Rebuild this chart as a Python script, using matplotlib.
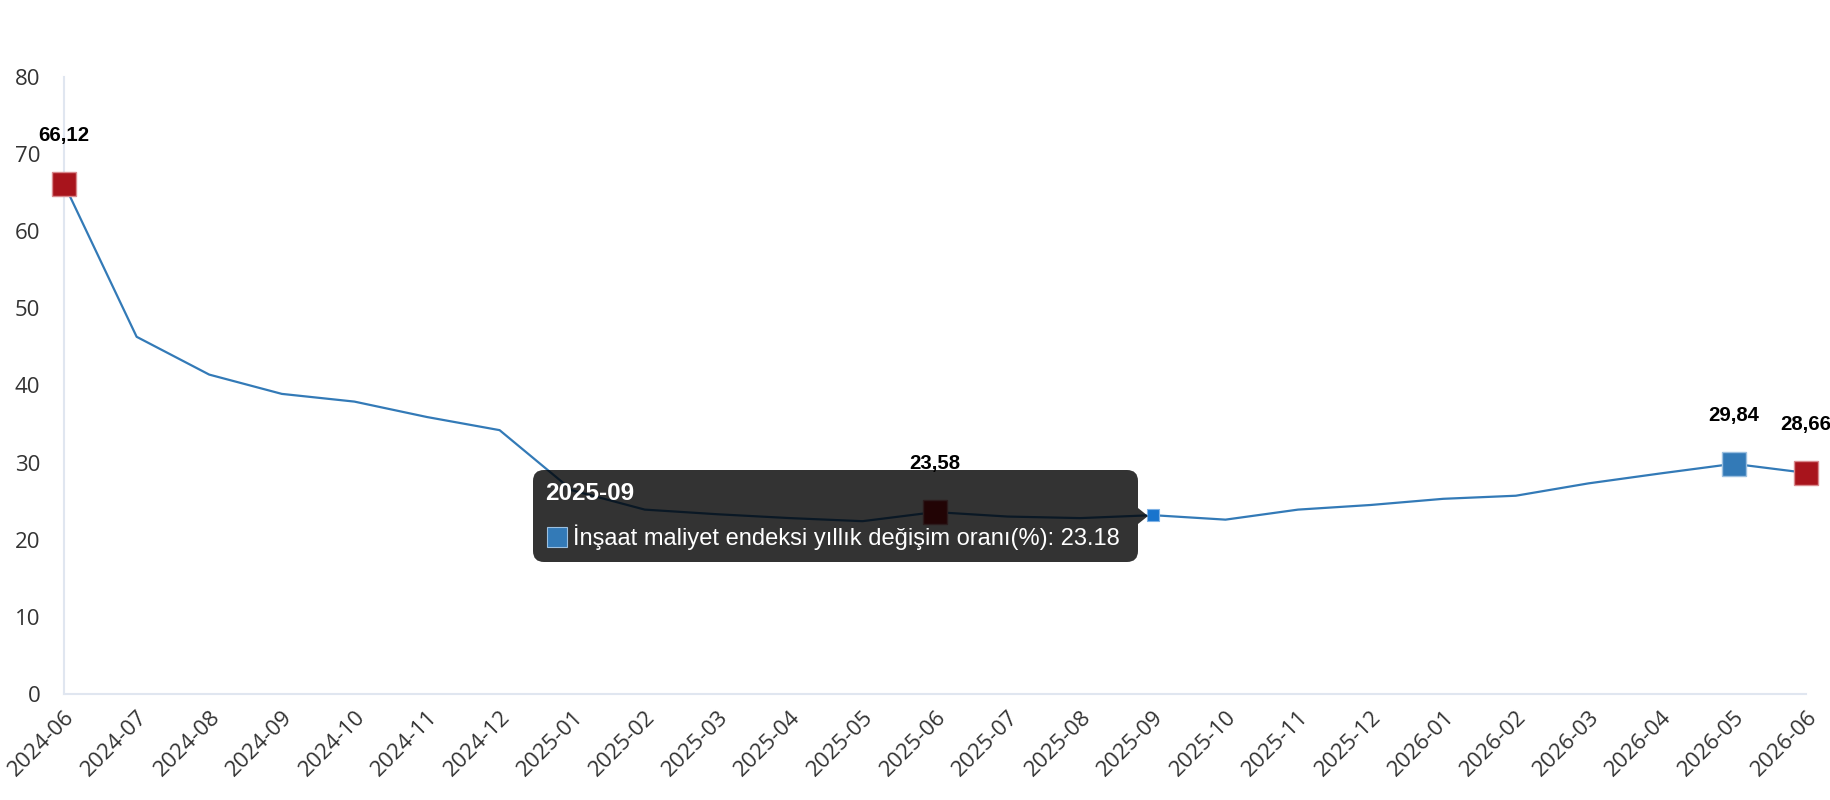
import matplotlib
matplotlib.use("Agg")
import matplotlib.pyplot as plt
from matplotlib.patches import FancyBboxPatch, Polygon, Rectangle

months = ["2024-06", "2024-07", "2024-08", "2024-09", "2024-10", "2024-11", "2024-12",
          "2025-01", "2025-02", "2025-03", "2025-04", "2025-05", "2025-06", "2025-07",
          "2025-08", "2025-09", "2025-10", "2025-11", "2025-12", "2026-01", "2026-02",
          "2026-03", "2026-04", "2026-05", "2026-06"]
values = [66.12, 46.3, 41.4, 38.9, 37.9, 35.9, 34.2,
          26.4, 23.9, 23.3, 22.8, 22.4, 23.58, 23.0,
          22.8, 23.18, 22.6, 23.9, 24.5, 25.3, 25.7,
          27.3, 28.6, 29.84, 28.66]
series_name = "İnşaat maliyet endeksi yıllık değişim oranı(%)"
highlight_idx = [0, 12, 23, 24]
highlight_colors = ["#A8141C", "#A8141C", "#337AB7", "#A8141C"]
highlight_edges = ["#D98A8E", "#D98A8E", "#9CC0E0", "#D98A8E"]
hover_idx = 15
yticks = [0, 10, 20, 30, 40, 50, 60, 70, 80]

line_color = "#337AB7"

fig = plt.figure(figsize=(18.3, 8), dpi=100)
ax = fig.add_axes([0.035, 0.1325, 0.952, 0.7715])
x = list(range(len(months)))
ax.plot(x, values, color=line_color, lw=1.6, zorder=3, clip_on=False)

for i, c, ec in zip(highlight_idx, highlight_colors, highlight_edges):
    ax.plot([x[i]], [values[i]], marker="s", ms=17, color=c, mec=ec, mew=1,
            zorder=4, clip_on=False)
    ax.annotate(f"{values[i]:.2f}".replace(".", ","), (x[i], values[i]),
                xytext=(0, 35), textcoords="offset points", ha="center", va="center",
                fontsize=14.7, fontweight="bold", family="Liberation Sans",
                color="black", zorder=5, annotation_clip=False)

ax.plot([x[hover_idx]], [values[hover_idx]], marker="s", ms=8.5, color="#1874CD",
        mec="#7FB2E5", mew=0.8, zorder=7, clip_on=False)

ax.set_xlim(0, len(months) - 1)
ax.set_ylim(0, 80)
ax.set_yticks(yticks)
ax.set_xticks(x)
ax.set_xticklabels(months, rotation=45, ha="right", va="top", rotation_mode="anchor")
ax.tick_params(axis="both", length=0, labelsize=16, labelcolor="#333333")
ax.tick_params(axis="y", pad=17)
ax.tick_params(axis="x", pad=9)
for lab in ax.get_xticklabels() + ax.get_yticklabels():
    lab.set_family("Open Sans")
for s in ["top", "right"]:
    ax.spines[s].set_visible(False)
for s in ["left", "bottom"]:
    ax.spines[s].set_color("#E0E6F0")
    ax.spines[s].set_linewidth(1.5)

# tooltip (figure pixel coordinates, 1830x800, origin bottom-left)
W, H = 1830, 800
tx0, ty0, tx1, ty1 = 533, 800 - 562, 1138, 800 - 470
box = FancyBboxPatch((tx0 / W, ty0 / H), (tx1 - tx0) / W, (ty1 - ty0) / H,
                     boxstyle="round,pad=0,rounding_size=0.006",
                     transform=fig.transFigure, facecolor="black", edgecolor="none",
                     alpha=0.8, zorder=6, mutation_aspect=W / H)
fig.patches.append(box)
py = 800 - 516
arrow = Polygon([(tx1 / W, (py + 8) / H), ((tx1 + 10) / W, py / H), (tx1 / W, (py - 8) / H)],
                closed=True, transform=fig.transFigure, facecolor="black",
                edgecolor="none", alpha=0.8, zorder=6)
fig.patches.append(arrow)
fig.text((tx0 + 12) / W, (800 - 494) / H, months[hover_idx], color="white",
         fontsize=17.5, fontweight="bold", family="Liberation Sans", va="center",
         ha="left", zorder=8)
sq = Rectangle(((tx0 + 14) / W, (800 - 547) / H), 20 / W, 20 / H,
               transform=fig.transFigure, facecolor=line_color, edgecolor="#9CC0E0",
               lw=0.8, zorder=8)
fig.patches.append(sq)
fig.text((tx0 + 40) / W, (800 - 537) / H, f"{series_name}: {values[hover_idx]}",
         color="white", fontsize=17, family="Liberation Sans", va="center", ha="left",
         zorder=8)

fig.savefig("out.png", dpi=100)
